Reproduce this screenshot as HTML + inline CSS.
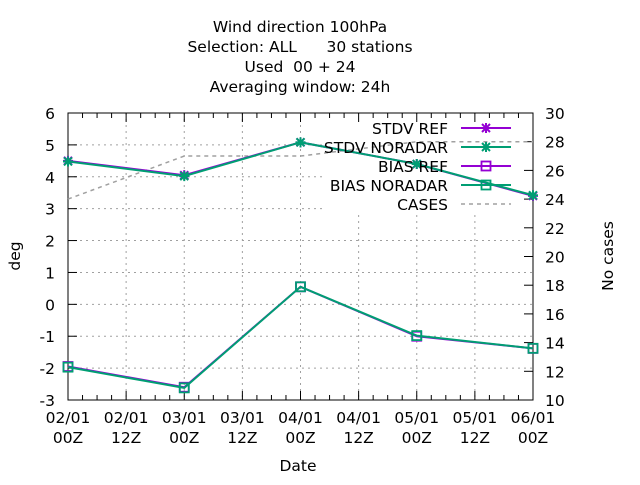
<!DOCTYPE html>
<html><head><meta charset="utf-8"><style>
body{margin:0;background:#fff}
svg{font-family:"DejaVu Sans","Liberation Sans",sans-serif;font-size:15.5px}
</style></head><body>
<svg id="chart" width="640" height="480" viewBox="0 0 640 480" xmlns="http://www.w3.org/2000/svg">
<g text-anchor="middle">
<text x="300" y="32">Wind direction 100hPa</text>
<text x="300" y="52" xml:space="preserve">Selection: ALL      30 stations</text>
<text x="300" y="72" xml:space="preserve">Used  00 + 24</text>
<text x="300" y="92">Averaging window: 24h</text>
</g>
<g id="grid"></g>
<rect x="322" y="114" width="210" height="100" fill="#fff"/>
<g id="axes"></g>
<g id="series"></g>
<g id="legend"></g>
<text x="20" y="256" text-anchor="middle" transform="rotate(-90 20 256)">deg</text>
<text x="613" y="256" text-anchor="middle" transform="rotate(-90 613 256)">No cases</text>
<text x="298" y="471" text-anchor="middle">Date</text>
</svg>
<script>
const dates=["02/01","02/01","03/01","03/01","04/01","04/01","05/01","05/01","06/01"];
const hours=["00Z","12Z","00Z","12Z","00Z","12Z","00Z","12Z","00Z"];
const xDays=[0,1,2,3,4];
const stdvRef=[4.5,4.05,5.08,4.4,3.4];
const stdvNoradar=[4.48,4.02,5.08,4.4,3.42];
const biasRef=[-1.95,-2.6,0.55,-1.0,-1.38];
const biasNoradar=[-1.97,-2.62,0.55,-0.98,-1.38];
const cases=[24,27,27,28,28];
const yTicks=[-3,-2,-1,0,1,2,3,4,5,6];
const y2Ticks=[10,12,14,16,18,20,22,24,26,28,30];

const L=68,R=533,T=113,B=400;
const X=d=>L+(R-L)*d/4;
const Y=v=>B-(B-T)*(v+3)/9;
const Y2=v=>B-(B-T)*(v-10)/20;
const NS="http://www.w3.org/2000/svg";
function mk(parent,tag,attrs){const e=document.createElementNS(NS,tag);for(const k in attrs)e.setAttribute(k,attrs[k]);document.getElementById(parent).appendChild(e);return e;}

for(let i=1;i<8;i++){const x=X(i/2);
 const g=mk('grid','line',{x1:x,x2:x,y1:T,y2:B,stroke:'#a0a0a0','stroke-dasharray':'2,4'});
 
 }
yTicks.slice(1,-1).forEach(v=>{
 const g=mk('grid','line',{x1:L,x2:R,y1:Y(v),y2:Y(v),stroke:'#a0a0a0','stroke-dasharray':'2,4'});
 
 });

const fr=mk('axes','rect',{x:L,y:T,width:R-L,height:B-T,fill:'none',stroke:'#000'});


for(let i=0;i<=32;i++){const x=X(i/8);const len=(i%4==0)?9:5;
 mk('axes','line',{x1:x,x2:x,y1:B,y2:B-len,stroke:'#000'});
 mk('axes','line',{x1:x,x2:x,y1:T,y2:T+len,stroke:'#000'});}
dates.forEach((d,i)=>{const x=X(i/2);
 const t=mk('axes','text',{x:x,y:423,'text-anchor':'middle'});t.textContent=d;
 
 
 const t2=mk('axes','text',{x:x,y:443,'text-anchor':'middle'});t2.textContent=hours[i];
 
 });
yTicks.forEach(v=>{const y=Y(v);
 mk('axes','line',{x1:L,x2:L+9,y1:y,y2:y,stroke:'#000'});
 const t=mk('axes','text',{x:55,y:y+6,'text-anchor':'end'});t.textContent=v;
 
 });
y2Ticks.forEach(v=>{const y=Y2(v);
 mk('axes','line',{x1:R,x2:R-9,y1:y,y2:y,stroke:'#000'});
 const t=mk('axes','text',{x:545,y:y+6,'text-anchor':'start'});t.textContent=v;
 
 });

function star(parent,x,y,c){return mk(parent,'path',{d:`M${x-5} ${y}h10M${x} ${y-5}v10M${x-4} ${y-4}l8 8M${x-4} ${y+4}l8 -8`,stroke:c,'stroke-width':2,fill:'none'});}
function sq(parent,x,y,c){return mk(parent,'rect',{x:x-4.5,y:y-4.5,width:9,height:9,fill:'none',stroke:c,'stroke-width':1.8});}
const series=[
 {name:'CASES',vals:cases,c:'#a0a0a0',dash:'4,4',y:Y2,mark:null},
 {name:'STDV REF',vals:stdvRef,c:'#9400d3',y:Y,mark:star},
 {name:'STDV NORADAR',vals:stdvNoradar,c:'#009e73',y:Y,mark:star},
 {name:'BIAS REF',vals:biasRef,c:'#9400d3',y:Y,mark:sq},
 {name:'BIAS NORADAR',vals:biasNoradar,c:'#009e73',y:Y,mark:sq}];
series.forEach(s=>{
 const pts=s.vals.map((v,i)=>X(xDays[i])+','+s.y(v)).join(' ');
 const p=mk('series','polyline',{points:pts,fill:'none',stroke:s.c,'stroke-width':s.dash?1.5:2,'stroke-dasharray':s.dash||'none'});
 
 
 if(s.mark)s.vals.forEach((v,i)=>{const m=s.mark('series',X(xDays[i]),s.y(v),s.c);
  
  });
});
const legOrder=[1,2,3,4,0];
legOrder.forEach((si,k)=>{const s=series[si];const y=128+k*19;
 const t=mk('legend','text',{x:448,y:y+6,'text-anchor':'end'});t.textContent=s.name;
 
 
 mk('legend','line',{x1:461,x2:511,y1:y,y2:y,stroke:s.c,'stroke-width':s.dash?1.5:2,'stroke-dasharray':s.dash||'none'});
 if(s.mark)s.mark('legend',486,y,s.c);
});
</script>
</body></html>
